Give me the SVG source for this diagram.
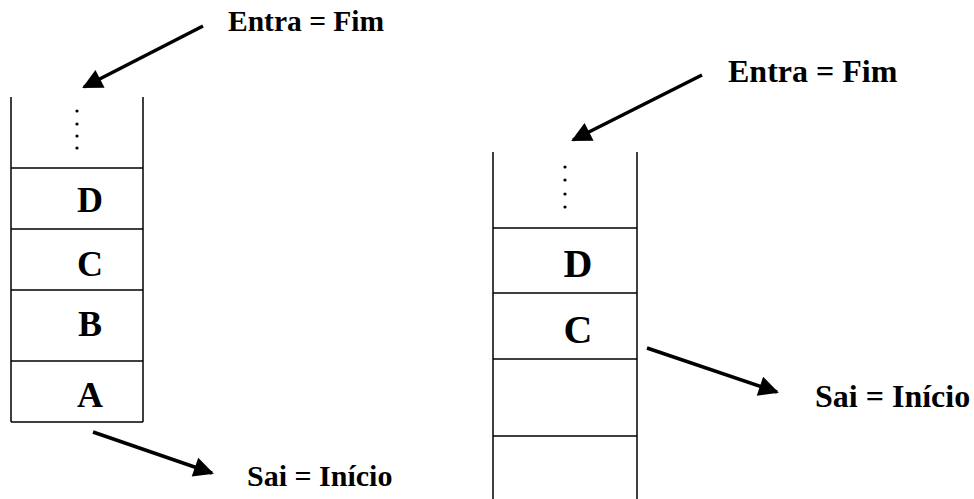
<svg xmlns="http://www.w3.org/2000/svg" width="974" height="499" viewBox="0 0 974 499">
<style>
.frame{stroke:#000;stroke-width:1.5;fill:none}
.lbl{font-family:"Liberation Serif","Times New Roman",serif;font-weight:bold;fill:#000}
.cell{text-anchor:middle}
.arr{stroke:#000;stroke-width:3.5;fill:none;marker-end:url(#ah)}
.dot{fill:#000}
</style>
<defs>
<marker id="ah" viewBox="0 0 10 10" refX="9" refY="5" markerWidth="24" markerHeight="20" markerUnits="userSpaceOnUse" orient="auto">
<path d="M0,0 L10,5 L0,10 z" fill="#000"/>
</marker>
</defs>
<rect width="974" height="499" fill="#fff"/>
<g id="stack-left">
<path class="frame" d="M11,97 V422 M143,97 V422 M11,168 H143 M11,229 H143 M11,290 H143 M11,361 H143 M11,422 H143"/>
<circle class="dot" cx="77" cy="111" r="1.6"/>
<circle class="dot" cx="77" cy="124" r="1.6"/>
<circle class="dot" cx="77" cy="136" r="1.6"/>
<circle class="dot" cx="77" cy="148" r="1.6"/>
<text class="lbl cell" x="90" y="212" font-size="36">D</text>
<text class="lbl cell" x="90" y="276" font-size="36">C</text>
<text class="lbl cell" x="90" y="336" font-size="36">B</text>
<text class="lbl cell" x="90" y="407" font-size="36">A</text>
</g>
<g id="stack-right">
<path class="frame" d="M493,152 V499 M637,152 V499 M493,228 H637 M493,293 H637 M493,359 H637 M493,436 H637"/>
<circle class="dot" cx="565" cy="167" r="1.6"/>
<circle class="dot" cx="565" cy="180" r="1.6"/>
<circle class="dot" cx="565" cy="194" r="1.6"/>
<circle class="dot" cx="565" cy="207" r="1.6"/>
<text class="lbl cell" x="578" y="277" font-size="40">D</text>
<text class="lbl cell" x="578" y="343" font-size="40">C</text>
</g>
<g id="label-left-in"><text class="lbl" x="228" y="31" font-size="29.5">Entra = Fim</text></g>
<g id="label-left-out"><text class="lbl" x="247" y="486" font-size="30">Sai = Início</text></g>
<g id="label-right-in"><text class="lbl" x="728" y="82" font-size="32">Entra = Fim</text></g>
<g id="label-right-out"><text class="lbl" x="815" y="407" font-size="32">Sai = Início</text></g>
<g id="connectors">
<path class="arr" d="M203,26 L84,87"/>
<path class="arr" d="M93,432 L212,473"/>
<path class="arr" d="M702,75 L573,140"/>
<path class="arr" d="M647,348 L777,392"/>
</g>
</svg>
